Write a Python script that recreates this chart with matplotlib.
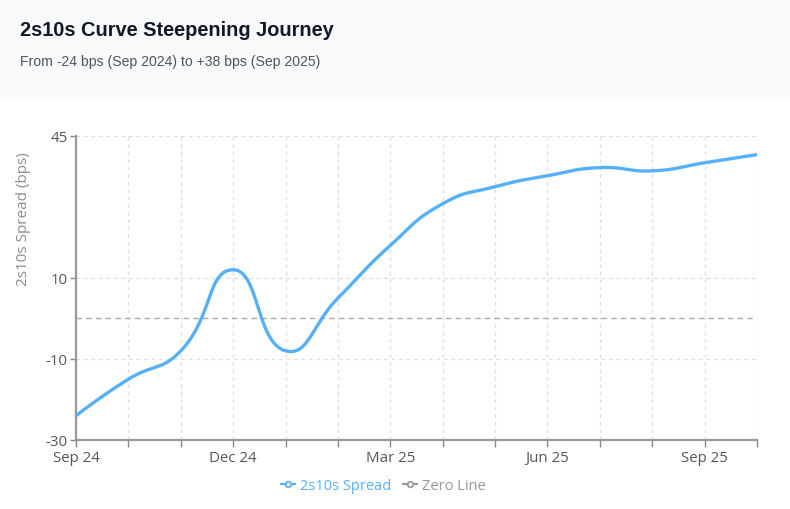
import numpy as np
import matplotlib
matplotlib.use("Agg")
import matplotlib.pyplot as plt
from matplotlib.patches import FancyBboxPatch
from matplotlib.lines import Line2D

# ---- data ----
months = ["Sep 24", "Oct 24", "Nov 24", "Dec 24", "Jan 25", "Feb 25", "Mar 25",
          "Apr 25", "May 25", "Jun 25", "Jul 25", "Aug 25", "Sep 25", "Oct 25"]
spread = [-24, -15, -8, 12, -8, 5, 18, 28.3, 32.5, 35.2, 37.2, 36.4, 38.4, 40.4]
zero_line = [0] * len(months)
tick_labels = ["Sep 24", "Dec 24", "Mar 25", "Jun 25", "Sep 25"]
y_ticks = [-30, -10, 10, 45]

W, H = 790, 510
fig = plt.figure(figsize=(W / 100, H / 100), dpi=100)
fig.patch.set_facecolor("white")

# header
hdr = FancyBboxPatch((0, 1 - 100 / H), 1, 100 / H, boxstyle="round,pad=0,rounding_size=0.006",
                     transform=fig.transFigure, facecolor="#f8f9fb", edgecolor="none", zorder=0)
fig.patches.append(hdr)
fig.text(20 / W, 1 - 31 / H, "2s10s Curve Steepening Journey", fontsize=14.4, fontweight="bold",
         color="#111827", family="Liberation Sans", va="center", ha="left")
fig.text(20 / W, 1 - 62 / H, "From -24 bps (Sep 2024) to +38 bps (Sep 2025)", fontsize=10.1,
         color="#4b5563", family="Liberation Sans", va="center", ha="left")

L, R, T, B = 76, 757, 137, 441
ax = fig.add_axes([L / W, 1 - B / H, (R - L) / W, (B - T) / H])
n = len(months)
x = np.arange(n)
ax.set_xlim(0, n - 1)
ax.set_ylim(-30, 45)

# ECharts-like smooth curve (computed in pixel space)
sx = (R - L) / (n - 1)
sy = (B - T) / 75.0
px = x * sx
py = np.array(spread) * sy
smooth = 0.5
xs, ys = [], []
cp0 = (px[0], py[0])
for i in range(1, n):
    xc, yc = px[i], py[i]
    xp, yp = px[i - 1], py[i - 1]
    if i < n - 1:
        xn, yn = px[i + 1], py[i + 1]
        vx, vy = xn - xp, yn - yp
        lp = np.hypot(xc - xp, yc - yp)
        ln = np.hypot(xn - xc, yn - yc)
        r = ln / (ln + lp)
        cp1 = (xc - vx * smooth * (1 - r), yc - vy * smooth * (1 - r))
        nxt_cp0 = (xc + vx * smooth * r, yc + vy * smooth * r)
    else:
        cp1 = (xc, yc)
        nxt_cp0 = None
    t = np.linspace(0, 1, 60)
    bx = (1 - t) ** 3 * xp + 3 * (1 - t) ** 2 * t * cp0[0] + 3 * (1 - t) * t ** 2 * cp1[0] + t ** 3 * xc
    by = (1 - t) ** 3 * yp + 3 * (1 - t) ** 2 * t * cp0[1] + 3 * (1 - t) * t ** 2 * cp1[1] + t ** 3 * yc
    xs.extend(bx / sx)
    ys.extend(by / sy)
    cp0 = nxt_cp0

blue = "#56b0f8"
ax.plot(xs, ys, color=blue, lw=2.4, solid_capstyle="round", zorder=4)
ax.plot(x, zero_line, color="#aaaaaa", lw=1, ls=(0, (4, 3)), zorder=3)

# grid
for xi in x:
    ax.axvline(xi, color="#dcdde3", lw=0.9, ls=(0, (3, 3)), zorder=1)
for yv in y_ticks:
    ax.axhline(yv, color="#dcdde3", lw=0.9, ls=(0, (3, 3)), zorder=1)

ax.set_xticks(x)
ax.set_xticklabels([m if m in tick_labels else "" for m in months])
ax.set_yticks(y_ticks)
ax.set_yticklabels([str(v) for v in y_ticks])
for lab in ax.get_xticklabels() + ax.get_yticklabels():
    lab.set_family("Open Sans")
    lab.set_fontsize(10.8)
    lab.set_color("#555555")
ax.tick_params(axis="x", length=5, width=1, color="#888888", pad=2)
ax.tick_params(axis="y", length=4, width=1, color="#888888", pad=2)
for s in ["top", "right"]:
    ax.spines[s].set_visible(False)
for s in ["left", "bottom"]:
    ax.spines[s].set_color("#999999")
    ax.spines[s].set_linewidth(1.6)
ax.set_facecolor("none")

ax.set_ylabel("2s10s Spread (bps)", fontsize=11, color="#8c8c8c", family="Open Sans")
ax.yaxis.set_label_coords(-0.066, 0.73)

handles = [Line2D([], [], color=blue, lw=1.5, marker="o", markersize=4, markerfacecolor="white",
                  markeredgewidth=1.3),
           Line2D([], [], color="#999999", lw=1.5, marker="o", markersize=4, markerfacecolor="white",
                  markeredgewidth=1.3)]
leg = fig.legend(handles, ["2s10s Spread", "Zero Line"], loc="center", bbox_to_anchor=(383 / W, 1 - 487 / H),
                 ncol=2, frameon=False, handlelength=1.0, handletextpad=0.3, columnspacing=0.8,
                 prop={"family": "Open Sans", "size": 10.5})
leg.get_texts()[0].set_color(blue)
leg.get_texts()[1].set_color("#999999")

fig.savefig("out.png", dpi=100)
